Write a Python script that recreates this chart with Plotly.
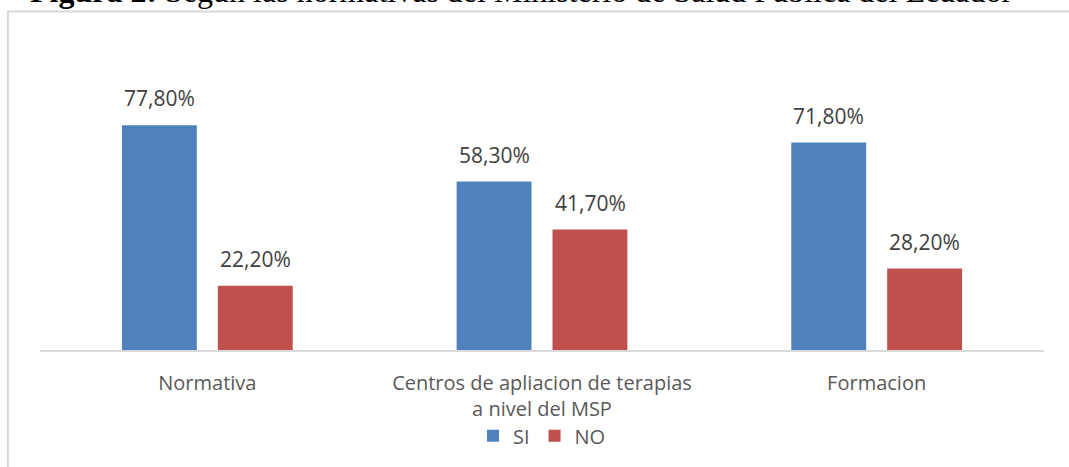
import plotly.graph_objects as go

CATEGORIES = ['Normativa', 'Centros de apliacion de terapias<br>a nivel del MSP', 'Formacion']
SI_VALUES = [77.8, 58.3, 71.8]
NO_VALUES = [22.2, 41.7, 28.2]
SERIES = [('SI', SI_VALUES, '#4F81BD'), ('NO', NO_VALUES, '#C0504D')]
TITLE_BOLD = 'Figura 2:'
TITLE_REST = 'Según las normativas del Ministerio de Salud Pública del Ecuador'

FONT = 'Open Sans'


def fmt(v):
    return f'{v:.2f}'.replace('.', ',') + '%'


fig = go.Figure()
for name, vals, color in SERIES:
    fig.add_trace(go.Bar(x=CATEGORIES, y=vals, name=name, marker_color=color,
                         marker_line_width=0, hoverinfo='skip'))

# data labels, placed above each bar with some breathing room
for k, (name, vals, _c) in enumerate(SERIES):
    shift = -48 if k == 0 else 48
    for cat, v in zip(CATEGORIES, vals):
        fig.add_annotation(x=cat, y=v, text=fmt(v), showarrow=False, xshift=shift,
                           yanchor='bottom', yshift=11,
                           font=dict(family=FONT, size=21, color='#404040'))

# frame around the chart area
fig.add_shape(type='rect', xref='paper', yref='paper', x0=-0.032, x1=1.06, y0=-0.6, y1=1.302,
              line=dict(color='#D9D9D9', width=2), layer='below')

# figure caption, cut off at the top as in the source image
fig.add_annotation(xref='paper', yref='paper', x=-0.012, y=1.38, xanchor='left', yanchor='middle',
                   showarrow=False, text=f'<b>{TITLE_BOLD}</b> {TITLE_REST}',
                   font=dict(family='Liberation Serif', size=32, color='black'))

fig.update_layout(
    width=1069, height=467,
    barmode='group', bargap=0.427, bargroupgap=0.219,
    plot_bgcolor='white', paper_bgcolor='white',
    margin=dict(l=40, r=25, t=90, b=114),
    showlegend=True,
    legend=dict(orientation='h', xanchor='center', x=0.5, yanchor='middle', y=-0.33,
                font=dict(family=FONT, size=20, color='#595959'), itemwidth=30,
                traceorder='normal'),
    xaxis=dict(showline=True, linecolor='#D9D9D9', linewidth=2, ticks='', ticklabelstandoff=14,
               tickfont=dict(family=FONT, size=20, color='#595959')),
    yaxis=dict(range=[0, 90], visible=False, showgrid=False),
)

fig.write_html('out.html', config={'displayModeBar': False},
               post_script="document.body.style.margin='0';")
